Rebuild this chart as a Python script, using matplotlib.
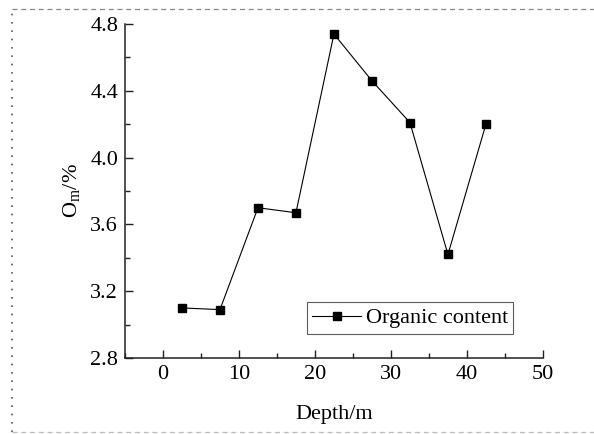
import numpy as np
import matplotlib
matplotlib.use("Agg")
from matplotlib import pyplot as plt
from matplotlib.lines import Line2D
from matplotlib.ticker import MultipleLocator

plt.rcParams['font.family'] = ['Liberation Serif', 'DejaVu Serif']
plt.rcParams['mathtext.fontset'] = 'custom'
plt.rcParams['mathtext.rm'] = 'Liberation Serif'
plt.rcParams['mathtext.it'] = 'Liberation Serif'

depth = [2.5, 7.5, 12.5, 17.5, 22.5, 27.5, 32.5, 37.5, 42.5]
organic = [3.10, 3.09, 3.70, 3.67, 4.74, 4.46, 4.21, 3.42, 4.20]
xticks = [0, 10, 20, 30, 40, 50]
yticks = [2.8, 3.2, 3.6, 4.0, 4.4, 4.8]

fig = plt.figure(figsize=(5.94, 4.34), dpi=100)
ax = fig.add_axes([0.2104, 0.175, 0.7036, 0.7697])

ax.plot(depth, organic, color='black', lw=0.8, marker='s', ms=5.5,
        label='Organic content')

ax.set_xlim(-5, 50)
ax.set_ylim(2.8, 4.8)
ax.set_xticks(xticks)
ax.set_yticks(yticks)
ax.set_yticklabels([f"{v:.1f}" for v in yticks])
ax.xaxis.set_minor_locator(MultipleLocator(5))
ax.yaxis.set_minor_locator(MultipleLocator(0.2))
ax.tick_params(which='both', direction='in', labelsize=16, width=1, color='#222222')
ax.tick_params(which='major', length=6, pad=5)
ax.tick_params(which='minor', length=3.5)
for s in ['top', 'right']:
    ax.spines[s].set_visible(False)
for s in ['left', 'bottom']:
    ax.spines[s].set_linewidth(1.1)
    ax.spines[s].set_color('#222222')

ax.set_xlabel('Depth/m', fontsize=16, labelpad=15)
ax.set_ylabel(r'O$_\mathrm{m}$/%', fontsize=16, labelpad=6)

leg = ax.legend(loc='lower left', bbox_to_anchor=(0.435, 0.072), fontsize=16,
                frameon=True, fancybox=False, edgecolor='#333333',
                handlelength=2.2, borderpad=0.25, handletextpad=0.2,
                borderaxespad=0)
leg.get_frame().set_linewidth(0.8)

# dashed frame around the figure
fig.add_artist(Line2D([0.02, 1.0], [0.979, 0.979], transform=fig.transFigure,
                      color='#888888', ls=(0, (4, 3)), lw=0.9))
fig.add_artist(Line2D([0.02, 1.0], [0.005, 0.005], transform=fig.transFigure,
                      color='#bbbbbb', ls=(0, (4, 3)), lw=0.9))
fig.add_artist(Line2D([0.02, 0.02], [0.005, 0.979], transform=fig.transFigure,
                      color='#555555', ls=(0, (1, 4)), lw=1.2))

fig.savefig('out.png', dpi=100)
